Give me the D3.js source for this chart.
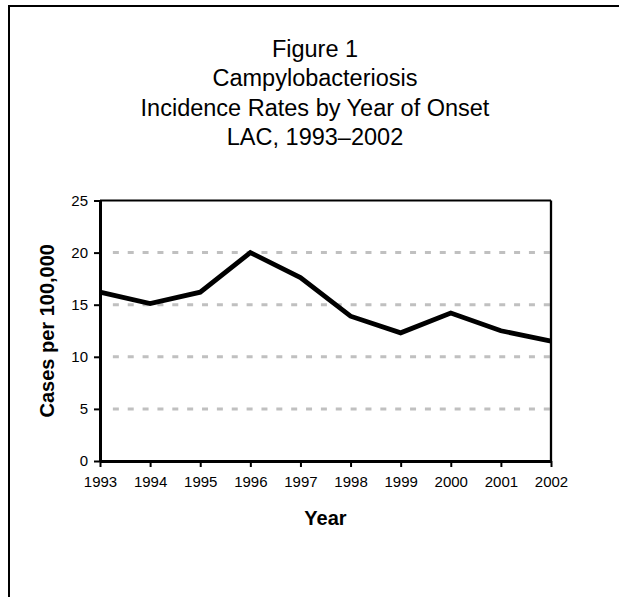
<!DOCTYPE html>
<html>
<head>
<meta charset="utf-8">
<script src="https://cdn.jsdelivr.net/npm/d3@7"></script>
<style>
  html, body { margin: 0; padding: 0; background: #fff; }
  svg { display: block; }
  text { font-family: "Liberation Sans", Arial, sans-serif; fill: #000; }
</style>
</head>
<body>
<svg id="chart" width="619" height="597"></svg>
<script>
const years = [1993, 1994, 1995, 1996, 1997, 1998, 1999, 2000, 2001, 2002];
const rates = [16.2, 15.1, 16.2, 20.0, 17.6, 13.9, 12.3, 14.2, 12.5, 11.5];
const yTicks = [0, 5, 10, 15, 20, 25];
const gridValues = [5, 10, 15, 20];
const titleLines = ["Figure 1", "Campylobacteriosis", "Incidence Rates by Year of Onset", "LAC, 1993\u20132002"];
const xLabel = "Year";
const yLabel = "Cases per 100,000";

(function () {
const svg = d3.select("#chart");

// outer frame
svg.append("rect")
  .attr("x", 9).attr("y", 6)
  .attr("width", 640).attr("height", 640)
  .attr("fill", "none").attr("stroke", "#000").attr("stroke-width", 2);

const pLeft = 100, pRight = 551, pTop = 200.5, pBottom = 461;

const x = d3.scaleLinear().domain([years[0], years[years.length - 1]]).range([pLeft, pRight]);
const y = d3.scaleLinear().domain([0, 25]).range([pBottom, pTop]);

// title
const title = svg.append("text")
  .attr("text-anchor", "middle")
  .style("font-size", "23.5px");
titleLines.forEach((t, i) => {
  title.append("tspan").attr("x", 315).attr("y", 57 + i * 29.4).text(t);
});

// gridlines
svg.append("g").selectAll("line")
  .data(gridValues)
  .join("line")
  .attr("x1", pLeft + 4).attr("x2", pRight - 1)
  .attr("y1", d => y(d)).attr("y2", d => y(d))
  .attr("stroke", "#c0c0c0")
  .attr("stroke-width", 3)
  .attr("stroke-dasharray", "6,8.86")
  .attr("stroke-dashoffset", 6);

// top and right borders of plot area
svg.append("line")
  .attr("x1", pLeft).attr("x2", pRight)
  .attr("y1", y(25)).attr("y2", y(25))
  .attr("stroke", "#000").attr("stroke-width", 2);
svg.append("line")
  .attr("x1", pRight).attr("x2", pRight)
  .attr("y1", y(25)).attr("y2", y(0))
  .attr("stroke", "#000").attr("stroke-width", 2.3);

// y axis
const yAxis = svg.append("g")
  .attr("transform", `translate(${pLeft},0)`)
  .call(d3.axisLeft(y).tickValues(yTicks).tickSize(6).tickSizeOuter(0).tickPadding(6).tickFormat(d3.format("d")));
yAxis.select(".domain").attr("stroke", "#000").attr("stroke-width", 3);
yAxis.selectAll(".tick line").attr("stroke", "#000").attr("stroke-width", 2);
yAxis.selectAll(".tick text")
  .style("font-family", '"Liberation Sans", Arial, sans-serif')
  .style("font-size", "15px")
  .attr("fill", "#000");

// x axis
const xAxis = svg.append("g")
  .attr("transform", `translate(0,${pBottom})`)
  .call(d3.axisBottom(x).tickValues(years).tickSize(6).tickSizeOuter(0).tickPadding(9).tickFormat(d3.format("d")));
xAxis.select(".domain").attr("stroke", "#000").attr("stroke-width", 3);
xAxis.selectAll(".tick line").attr("stroke", "#000").attr("stroke-width", 2);
xAxis.selectAll(".tick text")
  .style("font-family", '"Liberation Sans", Arial, sans-serif')
  .style("font-size", "15px")
  .attr("fill", "#000");

// line
const line = d3.line()
  .x((d, i) => x(years[i]))
  .y(d => y(d));
svg.append("path")
  .datum(rates)
  .attr("d", line)
  .attr("fill", "none")
  .attr("stroke", "#000")
  .attr("stroke-width", 4.8)
  .attr("stroke-linejoin", "miter");

// axis labels
svg.append("text")
  .attr("x", (pLeft + pRight) / 2)
  .attr("y", 525)
  .attr("text-anchor", "middle")
  .style("font-size", "20px")
  .style("font-weight", "bold")
  .text(xLabel);

svg.append("text")
  .attr("transform", `translate(53.5,${(pTop + pBottom) / 2}) rotate(-90)`)
  .attr("text-anchor", "middle")
  .style("font-size", "20px")
  .style("font-weight", "bold")
  .text(yLabel);
})();
</script>
</body>
</html>
